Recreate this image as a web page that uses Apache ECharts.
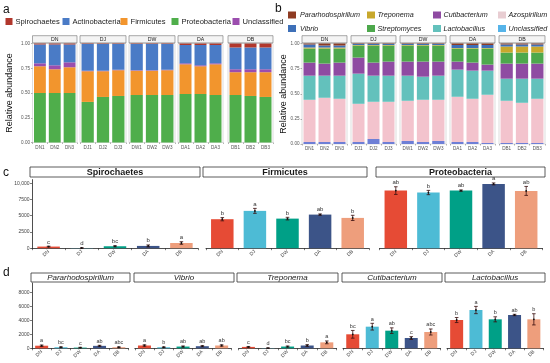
<!DOCTYPE html>
<html><head><meta charset="utf-8">
<script src="https://cdn.jsdelivr.net/npm/echarts/dist/echarts.min.js"></script>
<style>html,body{margin:0;padding:0;background:#fff}#c{width:550px;height:363px}</style>
</head><body><div id="c"></div>
<script>
// ---------- DATA ----------
const groups = ['DN','DJ','DW','DA','DB'];
const samples = ['DN1','DN2','DN3','DJ1','DJ2','DJ3','DW1','DW2','DW3','DA1','DA2','DA3','DB1','DB2','DB3'];

// panel a (phylum relative abundance), stacked bottom -> top
const proteoA = [0.50,0.50,0.50, 0.41,0.46,0.47, 0.48,0.48,0.48, 0.49,0.49,0.48, 0.48,0.47,0.46];
const firmA   = [0.27,0.24,0.26, 0.31,0.26,0.26, 0.245,0.245,0.25, 0.30,0.28,0.31, 0.23,0.24,0.25];
const unclA   = [0.03,0.04,0.05, 0.005,0.005,0.005, 0.005,0.005,0.005, 0.01,0.01,0.01, 0.03,0.03,0.03];
const actinoA = [0.19,0.21,0.18, 0.27,0.27,0.26, 0.265,0.265,0.26, 0.185,0.205,0.185, 0.22,0.22,0.22];
const spiroA  = [0.01,0.01,0.01, 0.005,0.005,0.005, 0.005,0.005,0.005, 0.015,0.015,0.015, 0.04,0.04,0.04];

// panel b (genus relative abundance), stacked bottom -> top
const unclB   = [0.02,0.02,0.02, 0.02,0.05,0.02, 0.03,0.02,0.03, 0.02,0.02,0.01, 0.01,0.01,0.01];
const azoB    = [0.42,0.44,0.43, 0.38,0.37,0.40, 0.40,0.42,0.41, 0.45,0.43,0.48, 0.42,0.40,0.44];
const lactoB  = [0.24,0.22,0.23, 0.30,0.26,0.26, 0.25,0.23,0.24, 0.27,0.28,0.24, 0.22,0.24,0.20];
const cutiB   = [0.13,0.12,0.13, 0.16,0.13,0.14, 0.14,0.15,0.14, 0.08,0.08,0.06, 0.15,0.15,0.15];
const strepB  = [0.14,0.15,0.14, 0.12,0.17,0.16, 0.16,0.16,0.16, 0.13,0.14,0.16, 0.11,0.11,0.11];
const trepB   = [0.01,0.01,0.01, 0.005,0.005,0.005, 0.005,0.005,0.005, 0.005,0.005,0.005, 0.06,0.06,0.06];
const vibB    = [0.03,0.02,0.02, 0.01,0.01,0.01, 0.01,0.01,0.01, 0.03,0.03,0.03, 0.02,0.02,0.02];
const paraB   = [0.01,0.02,0.02, 0.005,0.005,0.005, 0.005,0.005,0.005, 0.015,0.015,0.015, 0.01,0.01,0.01];

// panel c (absolute abundance, phyla)
const spiroMean = [250, 30, 300, 350, 800];
const spiroSE   = [60, 10, 80, 150, 200];
const spiroLet  = ['c','d','bc','b','a'];
const firmMean  = [4460, 5740, 4550, 5170, 4660];
const firmSE    = [250, 380, 200, 100, 400];
const firmLet   = ['b','a','b','ab','b'];
const proteoMean= [8860, 8560, 8860, 9890, 8810];
const proteoSE  = [590, 330, 100, 150, 690];
const proteoLet = ['ab','b','ab','a','ab'];
const yTicksC   = [0, 2500, 5000, 7500, 10000];

// panel d (absolute abundance, genera)
const paraMean = [370, 150, 100, 350, 150];
const paraSE   = [100, 60, 40, 80, 60];
const paraLet  = ['a','bc','c','ab','abc'];
const vibMean  = [400, 150, 250, 300, 400];
const vibSE    = [100, 50, 80, 80, 100];
const vibLet   = ['a','b','ab','ab','ab'];
const trepMean = [200, 30, 250, 400, 850];
const trepSE   = [60, 10, 80, 120, 200];
const trepLet  = ['c','d','bc','b','a'];
const cutiMean = [2000, 3090, 2520, 1470, 2330];
const cutiSE   = [550, 480, 400, 200, 430];
const cutiLet  = ['bc','a','ab','c','abc'];
const lactoMean= [4040, 5470, 4140, 4760, 4140];
const lactoSE  = [360, 520, 360, 100, 800];
const lactoLet = ['b','a','b','ab','b'];
const yTicksD  = [0, 2000, 4000, 6000, 8000];

// ---------- STYLE ----------
const FONT = 'Liberation Sans, Arial, sans-serif';
const groupColors = ['#E64B35','#4DBBD5','#00A087','#3C5488','#EE9E7C'];
const taxaA = [
  {name:'Proteobacteria', data:proteoA, color:'#4FAE4B'},
  {name:'Firmicutes', data:firmA, color:'#F2952D'},
  {name:'Unclassified', data:unclA, color:'#9B4DAE'},
  {name:'Actinobacteria', data:actinoA, color:'#4A7BC6'},
  {name:'Spirochaetes', data:spiroA, color:'#B1372C'}
];
const legendA = ['Spirochaetes','Actinobacteria','Firmicutes','Proteobacteria','Unclassified'];
const taxaB = [
  {name:'Unclassified', data:unclB, color:'#6E7FD6'},
  {name:'Azospirillum', data:azoB, color:'#F3C3CD'},
  {name:'Lactobacillus', data:lactoB, color:'#63C1BC'},
  {name:'Cutibacterium', data:cutiB, color:'#8F4BA2'},
  {name:'Streptomyces', data:strepB, color:'#4DA84C'},
  {name:'Treponema', data:trepB, color:'#C8A82C'},
  {name:'Vibrio', data:vibB, color:'#3E70B8'},
  {name:'Pararhodospirillum', data:paraB, color:'#8E3B22'}
];
const legendBColors = {'Unclassified':'#56B4E9','Azospirillum':'#E8CDD2'};
const legendB = [['Pararhodospirillum','Treponema','Cutibacterium','Azospirillum'],
                 ['Vibrio','Streptomyces','Lactobacillus','Unclassified']];

const grids = [], xAxes = [], yAxes = [], series = [], graphics = [];

function strip(x, y, w, h, text, opt) {
  graphics.push({type:'rect', shape:{x:x, y:y, width:w, height:h},
    style:{fill: opt.fill, stroke: opt.stroke, lineWidth: opt.lw}, z:10});
  graphics.push({type:'text', x: x + w/2, y: y + h/2 + 0.3,
    style:{text:text, fontSize:opt.fs, fontWeight:opt.fw||'normal', fontStyle:opt.fst||'normal',
      fontFamily:FONT, fill:'#1a1a1a', align:'center', verticalAlign:'middle'}, z:11});
}

// ---------- panels a & b (stacked relative abundance) ----------
function relPanel(lefts, widths, top, height, taxa, showY) {
  lefts.forEach((l, f) => {
    const gi = grids.length;
    grids.push({left:l, top:top, width:widths[f], height:height, show:true,
      borderColor:'#c8c8c8', borderWidth:0.6, backgroundColor:'#fff', outerBoundsMode:'none'});
    const cats = samples.slice(f*3, f*3+3);
    xAxes.push({type:'category', gridIndex:gi, data:cats,
      axisLine:{show:false}, axisTick:{show:true, length:1.5, lineStyle:{color:'#666', width:0.5}},
      axisLabel:{fontSize:4.6, color:'#555', margin:2.5, fontFamily:FONT}});
    yAxes.push({type:'value', gridIndex:gi, min:0, max:1, interval:0.25,
      splitLine:{show:false}, axisLine:{show:false},
      axisTick:{show:showY && f===0, length:1.5, lineStyle:{color:'#666', width:0.5}},
      axisLabel:{show:showY && f===0, fontSize:4.6, color:'#555', margin:2.5, fontFamily:FONT,
        formatter: v => v.toFixed(2)}});
    taxa.forEach(t => {
      series.push({type:'bar', name:t.name, xAxisIndex:gi, yAxisIndex:gi, stack:'s'+gi,
        barCategoryGap:'20%', data:t.data.slice(f*3, f*3+3),
        itemStyle:{color:t.color}, emphasis:{disabled:true}, silent:true});
    });
    strip(l, top-7.8, widths[f], 7.2, groups[f],
      {fill:'#f4f4f4', stroke:'#555', lw:0.5, fs:5.2});
  });
}
relPanel([32.5, 80, 129, 178, 228], [44.5, 46, 46, 45, 45], 43.5, 99, taxaA, true);
relPanel([302, 351, 400, 450, 499], [45, 45, 46, 45, 46], 43.5, 100.5, taxaB, true);

// ---------- panels c & d (absolute abundance with error bars) ----------
function errSeries(gi, means, ses, lets, fs) {
  return {type:'custom', xAxisIndex:gi, yAxisIndex:gi, z:5, silent:true,
    data: means.map((m, i) => [i, m, ses[i]]),
    renderItem: function(params, api) {
      const x = api.value(0), m = api.value(1), s = api.value(2);
      const tp = api.coord([x, m + s]), bt = api.coord([x, Math.max(0, m - s)]), mp = api.coord([x, m]);
      const w = 1.8, col = '#3a0f0f';
      return {type:'group', children:[
        {type:'line', shape:{x1:tp[0], y1:tp[1], x2:bt[0], y2:bt[1]}, style:{stroke:col, lineWidth:0.8}},
        {type:'line', shape:{x1:tp[0]-w, y1:tp[1], x2:tp[0]+w, y2:tp[1]}, style:{stroke:col, lineWidth:0.8}},
        {type:'line', shape:{x1:bt[0]-w, y1:bt[1], x2:bt[0]+w, y2:bt[1]}, style:{stroke:col, lineWidth:0.8}},
        {type:'circle', shape:{cx:mp[0], cy:mp[1], r:0.9}, style:{fill:'#111'}},
        {type:'text', x:tp[0], y:tp[1]-1.2, style:{text:lets[params.dataIndex], fontSize:fs,
          fontFamily:FONT, fill:'#333', align:'center', verticalAlign:'bottom'}}
      ]};
    }};
}
function absPanel(lefts, widths, top, height, ymax, interval, facets, showFirstY, barW, labFs, stripH, stripOpt, fmt) {
  facets.forEach((fc, f) => {
    const gi = grids.length;
    grids.push({left:lefts[f], top:top, width:widths[f], height:height, show:false, outerBoundsMode:'none'});
    xAxes.push({type:'category', gridIndex:gi, data:groups,
      axisLine:{show:true, lineStyle:{color:'#222', width:0.8}},
      axisTick:{show:true, length:2, lineStyle:{color:'#222', width:0.6}},
      axisLabel:{fontSize:5, color:'#444', rotate:45, margin:2.5, fontFamily:FONT}});
    const first = showFirstY && f === 0;
    yAxes.push({type:'value', gridIndex:gi, min:0, max:ymax, interval:interval,
      splitLine:{show:false},
      axisLine:{show:first, lineStyle:{color:'#222', width:0.8}},
      axisTick:{show:first, length:2, lineStyle:{color:'#222', width:0.6}},
      axisLabel:{show:first, fontSize:5, color:'#444', margin:2.5, fontFamily:FONT,
        showMaxLabel:false, formatter: fmt}});
    series.push({type:'bar', xAxisIndex:gi, yAxisIndex:gi, barWidth:barW, silent:true,
      data: fc.mean.map((v, i) => ({value:v, itemStyle:{color:groupColors[i]}}))});
    series.push(errSeries(gi, fc.mean, fc.se, fc.let, labFs));
    strip(fc.sx, fc.sy, fc.sw, stripH, fc.name, stripOpt);
  });
}
absPanel([32, 206, 379.5], [166, 163, 163], 179.6, 68.6, 10550, 2500, [
  {name:'Spirochaetes', mean:spiroMean, se:spiroSE, let:spiroLet, sx:30, sy:167, sw:170},
  {name:'Firmicutes', mean:firmMean, se:firmSE, let:firmLet, sx:203, sy:167, sw:164},
  {name:'Proteobacteria', mean:proteoMean, se:proteoSE, let:proteoLet, sx:376, sy:167, sw:169}
], true, 22.5, 6, 10, {fill:'#fff', stroke:'#333', lw:0.8, fs:9, fw:'bold'},
  v => v >= 10000 ? '10,000' : String(v));

absPanel([32, 134.8, 238.6, 343, 447], [96.5, 96.5, 98, 97.5, 96.5], 283, 65.3, 9330, 2000, [
  {name:'Pararhodospirillum', mean:paraMean, se:paraSE, let:paraLet, sx:31, sy:273, sw:99},
  {name:'Vibrio', mean:vibMean, se:vibSE, let:vibLet, sx:134, sy:273, sw:100},
  {name:'Treponema', mean:trepMean, se:trepSE, let:trepLet, sx:237, sy:273, sw:101},
  {name:'Cutibacterium', mean:cutiMean, se:cutiSE, let:cutiLet, sx:342, sy:273, sw:100},
  {name:'Lactobacillus', mean:lactoMean, se:lactoSE, let:lactoLet, sx:445, sy:273, sw:100}
], true, 13, 5.5, 9, {fill:'#fff', stroke:'#333', lw:0.8, fs:8, fst:'italic'},
  v => String(v));

// ---------- panel letters, axis titles, legends ----------
[['a',3,10],['b',275,9],['c',3,173],['d',3,273]].forEach(p => {
  graphics.push({type:'text', x:p[1], y:p[2], style:{text:p[0], fontSize:12, fontFamily:FONT,
    fill:'#111', verticalAlign:'middle'}});
});
[[10, 93],[284, 94]].forEach(p => {
  graphics.push({type:'text', x:p[0], y:p[1], rotation:Math.PI/2,
    style:{text:'Relative abundance', fontSize:9, fontFamily:FONT, fill:'#111', align:'center', verticalAlign:'middle'}});
});
// legend a
const legAx = [5.5, 62.5, 120.5, 171.5, 232.5];
legendA.forEach((n, i) => {
  const t = taxaA.find(d => d.name === n);
  graphics.push({type:'rect', shape:{x:legAx[i], y:18, width:7, height:7}, style:{fill:t.color}});
  graphics.push({type:'text', x:legAx[i]+10, y:21.8, style:{text:n, fontSize:7.6, fontFamily:FONT,
    fill:'#222', verticalAlign:'middle'}});
});
// legend b
const legBx = [288, 367, 433, 498];
legendB.forEach((row, r) => {
  row.forEach((n, i) => {
    const t = taxaB.find(d => d.name === n);
    const col = legendBColors[n] || t.color;
    const y = r === 0 ? 11.5 : 25;
    graphics.push({type:'rect', shape:{x:legBx[i], y:y, width:8, height:7}, style:{fill:col}});
    graphics.push({type:'text', x:legBx[i]+(i===0?12:10.5), y:y+3.7, style:{text:n, fontSize:7.2, fontStyle:'italic',
      fontFamily:FONT, fill:'#222', verticalAlign:'middle'}});
  });
});

const chart = echarts.init(document.getElementById('c'), null, {renderer:'canvas'});
chart.setOption({
  animation:false, backgroundColor:'#fff',
  textStyle:{fontFamily:FONT},
  grid:grids, xAxis:xAxes, yAxis:yAxes, series:series,
  graphic:{elements:graphics}
});
</script>
</body></html>
